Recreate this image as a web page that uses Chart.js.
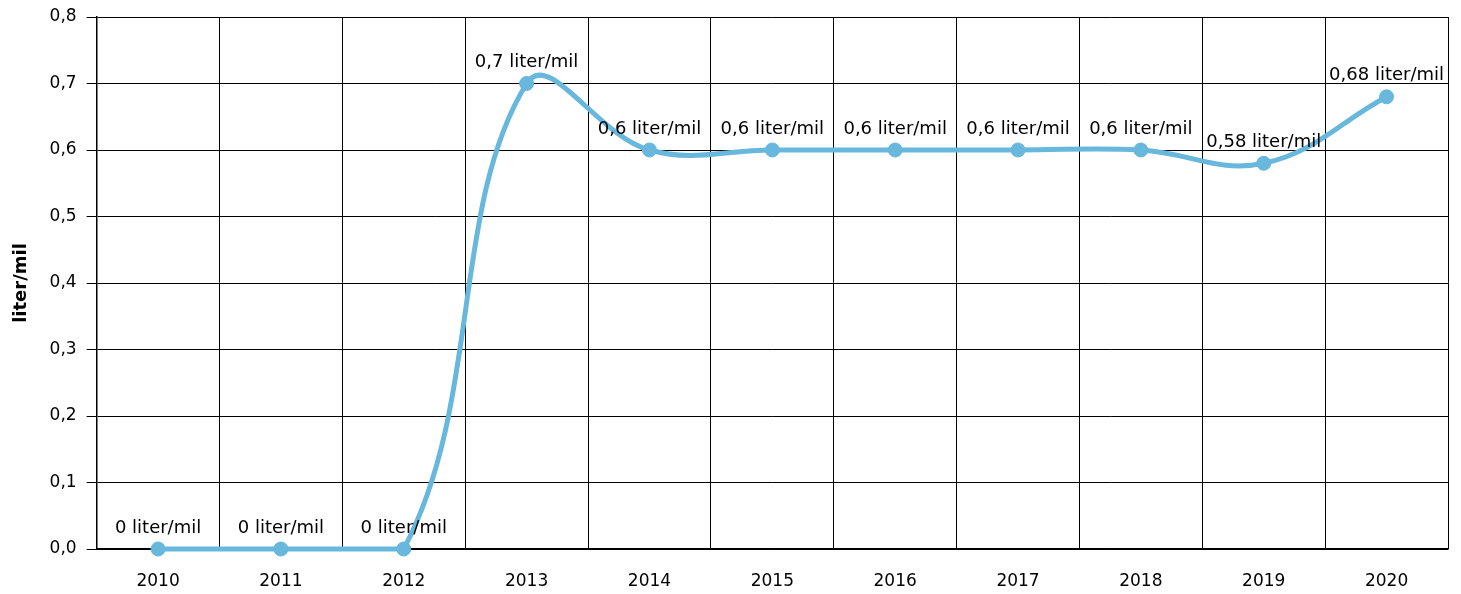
<!DOCTYPE html>
<html>
<head>
<meta charset="utf-8">
<script src="https://cdn.jsdelivr.net/npm/chart.js@4/dist/chart.umd.min.js"></script>
<style>
  html, body { margin: 0; padding: 0; background: #fff; }
  #wrap { width: 1461px; height: 594px; }
</style>
</head>
<body>
<div id="wrap"><canvas id="chart"></canvas></div>
<script>
const years = ['2010', '2011', '2012', '2013', '2014', '2015', '2016', '2017', '2018', '2019', '2020'];
const values = [0, 0, 0, 0.7, 0.6, 0.6, 0.6, 0.6, 0.6, 0.58, 0.68];
const unit = 'liter/mil';

const FONT = '"DejaVu Sans", Verdana, sans-serif';
const fmt = (v, digits) => v.toFixed(digits).replace('.', ',');
const labelText = (v) => `${String(v).replace('.', ',')} ${unit}`;

// value labels above each point
const pointLabels = {
    id: 'pointLabels',
    afterDatasetsDraw(chart) {
        const ctx = chart.ctx;
        const meta = chart.getDatasetMeta(0);
        ctx.save();
        ctx.font = `18px ${FONT}`;
        ctx.fillStyle = '#000';
        ctx.textAlign = 'center';
        ctx.textBaseline = 'bottom';
        meta.data.forEach((pt, i) => {
            ctx.fillText(labelText(values[i]), pt.x, pt.y - 12);
        });
        ctx.restore();
    }
};

const chart = new Chart(document.querySelector('#chart'), {
    type: 'line',
    data: {
        labels: years,
        datasets: [{
            data: values,
            borderColor: '#68b7dd',
            backgroundColor: '#68b7dd',
            borderWidth: 5,
            pointRadius: 7,
            pointBorderWidth: 1,
            pointHoverRadius: 7,
            tension: 0.4,
            clip: { left: 10, top: 10, right: 10, bottom: 8 }
        }]
    },
    options: {
        responsive: true,
        maintainAspectRatio: false,
        animation: false,
        layout: { padding: { top: 17, right: 13, left: 11, bottom: 0 } },
        plugins: { legend: { display: false }, tooltip: { enabled: false } },
        scales: {
            x: {
                offset: true,
                grid: { offset: true, color: '#000', lineWidth: 1, drawTicks: false },
                border: { color: '#000', width: 1.5 },
                ticks: { color: '#000', font: { family: FONT, size: 17 }, padding: 22, maxRotation: 0 },
                afterFit: (scale) => { scale.height = 45; }
            },
            y: {
                min: 0,
                max: 0.8,
                grid: { color: '#000', lineWidth: 1, tickLength: 10 },
                border: { color: '#000', width: 1.5 },
                ticks: {
                    stepSize: 0.1,
                    color: '#000',
                    padding: 10,
                    font: { family: FONT, size: 17 },
                    callback: (v) => fmt(v, 1)
                },
                title: {
                    display: true,
                    text: unit,
                    color: '#000',
                    font: { family: FONT, size: 18, weight: 'bold' },
                    padding: { top: 0, bottom: 7 }
                },
                afterFit: (scale) => { scale.paddingTop = 0; scale.paddingBottom = 0; }
            }
        }
    },
    plugins: [pointLabels]
});
</script>
</body>
</html>
